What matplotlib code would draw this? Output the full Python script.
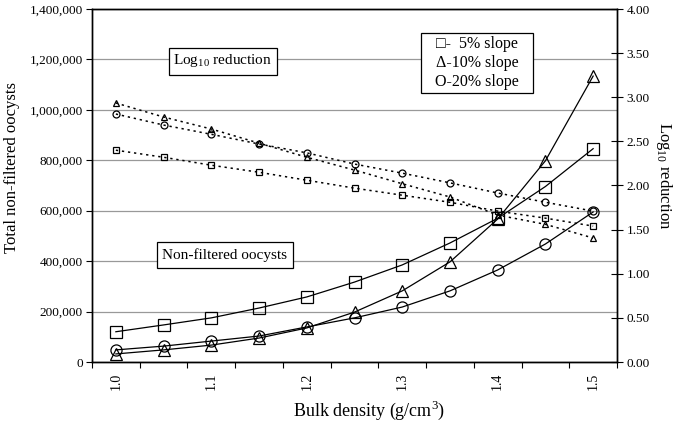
import matplotlib
matplotlib.use("Agg")
import matplotlib.pyplot as plt
from matplotlib.ticker import FuncFormatter, FixedLocator
from matplotlib.patches import Rectangle

plt.rcParams['font.family'] = ['Liberation Serif', 'DejaVu Serif']
plt.rcParams['mathtext.fontset'] = 'custom'
plt.rcParams['mathtext.rm'] = 'Liberation Serif'

density = ["1.0", "1.05", "1.1", "1.15", "1.2", "1.25", "1.3", "1.35", "1.4", "1.45", "1.5"]
tick_labels = ["1.0", "1.1", "1.2", "1.3", "1.4", "1.5"]

# Non-filtered oocysts (left axis)
oocysts_5 = [120000, 147000, 175000, 214000, 258000, 317000, 385000, 472000, 570000, 696000, 846000]
oocysts_10 = [32000, 48000, 67000, 95000, 135000, 198000, 282000, 397000, 567000, 798000, 1134000]
oocysts_20 = [48000, 63000, 83000, 103000, 139000, 175000, 218000, 282000, 365000, 468000, 595000]

# Log10 reduction (right axis)
log_5 = [2.40, 2.32, 2.23, 2.15, 2.06, 1.97, 1.89, 1.81, 1.71, 1.63, 1.54]
log_10 = [2.935, 2.776, 2.64, 2.48, 2.32, 2.175, 2.02, 1.87, 1.665, 1.56, 1.405]
log_20 = [2.81, 2.685, 2.58, 2.47, 2.37, 2.243, 2.14, 2.03, 1.915, 1.81, 1.71]

fig = plt.figure(figsize=(6.76, 4.23), dpi=100)
ax = fig.add_axes([92/676, 61/423, 525/676, 353/423])
ax2 = ax.twinx()

x = list(range(len(density)))

ax.set_ylim(0, 1400000)
ax.set_xlim(-0.5, len(density) - 0.5)
ax.set_yticks(range(0, 1400001, 200000))
ax.yaxis.set_major_formatter(FuncFormatter(lambda v, p: f"{int(v):,}"))
ax.grid(axis='y', color='#999999', linewidth=0.9)
ax.set_axisbelow(True)

ax.xaxis.set_major_locator(FixedLocator([i - 0.5 for i in range(len(density) + 1)]))
ax.xaxis.set_major_formatter(FuncFormatter(lambda v, p: ""))
ax.xaxis.set_minor_locator(FixedLocator([0, 2, 4, 6, 8, 10]))
ax.set_xticklabels(tick_labels, minor=True, rotation=90)
ax.tick_params(axis='x', which='minor', length=0, labelsize=10, pad=8)
ax.tick_params(axis='x', which='major', length=4.5, direction='out')
ax.tick_params(axis='y', which='major', length=4.5, direction='out', labelsize=9.5, pad=2)

sty_solid = dict(color='black', linewidth=0.9, markerfacecolor='none', markeredgecolor='black',
                 markersize=8, markeredgewidth=0.9)
ax.plot(x, oocysts_5, marker='s', **sty_solid)
ax.plot(x, oocysts_10, marker='^', **sty_solid)
ax.plot(x, oocysts_20, marker='o', **sty_solid)

ax2.set_ylim(0, 4)
ax2.set_yticks([0, 0.5, 1, 1.5, 2, 2.5, 3, 3.5, 4])
ax2.yaxis.set_major_formatter(FuncFormatter(lambda v, p: f"{v:.2f}"))
ax2.tick_params(axis='y', length=8, direction='inout', labelsize=9.5, pad=3)

sty_dot = dict(color='black', linewidth=1.1, linestyle=(0, (1.5, 2.5)), markerfacecolor='none',
               markeredgecolor='black', markersize=5, markeredgewidth=0.9)
ax2.plot(x, log_5, marker='s', **sty_dot)
ax2.plot(x, log_10, marker='^', **sty_dot)
ax2.plot(x, log_20, marker='o', **sty_dot)

for a in (ax, ax2):
    for s in a.spines.values():
        s.set_linewidth(1.0)
        s.set_color('black')

ax.set_ylabel("Total non-filtered oocysts", fontsize=12)
ax.yaxis.set_label_coords(-0.152, 0.55)
ax.yaxis.label.set_va('center')
ax2.set_ylabel("Log$_{10}$ reduction", fontsize=12, rotation=-90)
ax2.yaxis.set_label_coords(1.089, 0.527)
ax2.yaxis.label.set_va('center')
ax.set_xlabel("Bulk density (g/cm$^3$)", fontsize=13)
ax.xaxis.set_label_coords(0.5276, -0.136)
ax.xaxis.label.set_va('center')

def box(x0, y0, x1, y1):
    ax.add_patch(Rectangle((x0, y0), x1 - x0, y1 - y0, transform=ax.transAxes,
                           facecolor='white', edgecolor='black', linewidth=0.9, zorder=4))

box(0.1467, 0.813, 0.3524, 0.8895)
ax.text(0.2495, 0.853, "Log$_{10}$ reduction", transform=ax.transAxes, ha='center', va='center',
        fontsize=11, zorder=5)
box(0.1238, 0.2663, 0.3829, 0.340)
ax.text(0.2533, 0.303, "Non-filtered oocysts", transform=ax.transAxes, ha='center', va='center',
        fontsize=11, zorder=5)
box(0.6267, 0.762, 0.840, 0.932)
ax.text(0.733, 0.847, "\u25a1-  5% slope\n\u0394-10% slope\nO-20% slope", transform=ax.transAxes,
        ha='center', va='center', fontsize=11.5, linespacing=1.25, zorder=5)

fig.savefig("out.png", dpi=100)
